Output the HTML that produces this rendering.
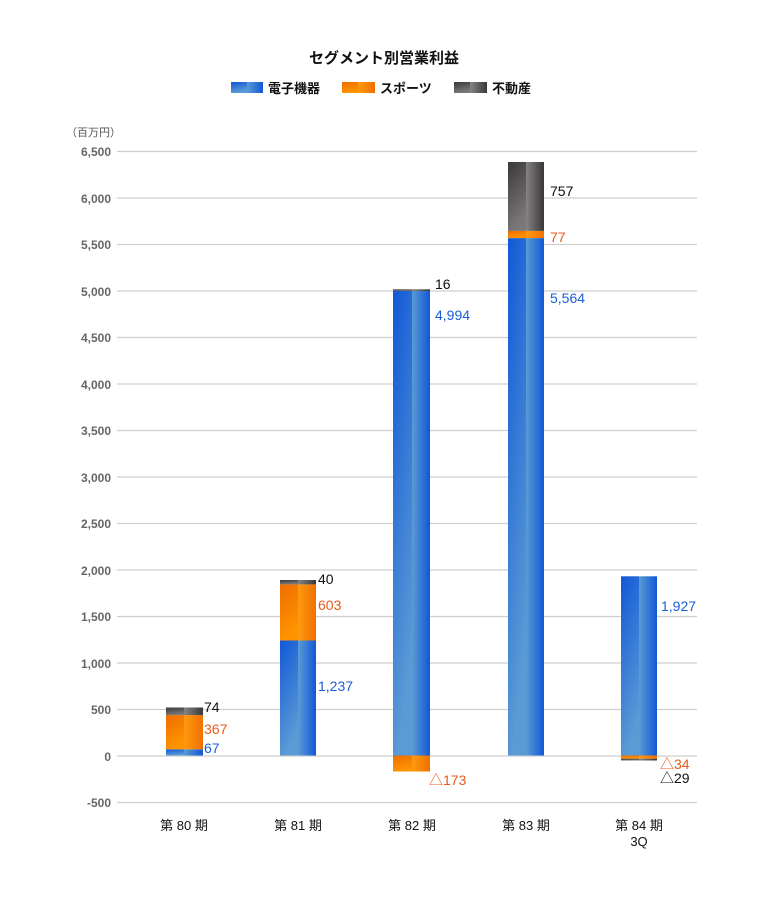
<!DOCTYPE html>
<html><head><meta charset="utf-8"><style>
html,body{margin:0;padding:0;background:#fff;}
svg{display:block;font-family:"Liberation Sans","Noto Sans CJK JP",sans-serif;}
</style></head><body>
<svg width="768" height="900" viewBox="0 0 768 900" xmlns="http://www.w3.org/2000/svg">
<defs>
<linearGradient id="bL" x1="0" y1="0" x2="0.3" y2="1"><stop offset="0" stop-color="#1158d6"/><stop offset="1" stop-color="#5b9bd5"/></linearGradient>
<linearGradient id="bR" x1="0" y1="0" x2="1" y2="0"><stop offset="0" stop-color="#5b9bd5"/><stop offset="1" stop-color="#1158d6"/></linearGradient>
<linearGradient id="oL" x1="0" y1="0" x2="0.3" y2="1"><stop offset="0" stop-color="#ee6d00"/><stop offset="1" stop-color="#ff9400"/></linearGradient>
<linearGradient id="oR" x1="0" y1="0" x2="1" y2="0"><stop offset="0" stop-color="#ff9a10"/><stop offset="1" stop-color="#f07000"/></linearGradient>
<linearGradient id="gL" x1="0" y1="0" x2="0.3" y2="1"><stop offset="0" stop-color="#3a3838"/><stop offset="1" stop-color="#7a7878"/></linearGradient>
<linearGradient id="gR" x1="0" y1="0" x2="1" y2="0"><stop offset="0" stop-color="#858383"/><stop offset="1" stop-color="#3a3838"/></linearGradient>
</defs>
<text x="384" y="63" text-anchor="middle" font-size="15" font-weight="bold" fill="#111">セグメント別営業利益</text>
<rect x="231" y="82" width="16" height="11" fill="url(#bL)"/><rect x="247" y="82" width="16" height="11" fill="url(#bR)"/>
<text x="268" y="93" font-size="13" font-weight="bold" fill="#111">電子機器</text>
<rect x="342" y="82" width="16" height="11" fill="url(#oL)"/><rect x="358" y="82" width="17" height="11" fill="url(#oR)"/>
<text x="380" y="93" font-size="13" font-weight="bold" fill="#111">スポーツ</text>
<rect x="454" y="82" width="16" height="11" fill="url(#gL)"/><rect x="470" y="82" width="17" height="11" fill="url(#gR)"/>
<text x="492" y="93" font-size="13" font-weight="bold" fill="#111">不動産</text>
<text x="66" y="136" font-size="11" fill="#555">（百万円）</text>
<g stroke="#cfcfcf" stroke-width="1.3">
<line x1="117" x2="697" y1="151.5" y2="151.5"/><line x1="117" x2="697" y1="198" y2="198"/><line x1="117" x2="697" y1="244.5" y2="244.5"/><line x1="117" x2="697" y1="291" y2="291"/><line x1="117" x2="697" y1="337.5" y2="337.5"/><line x1="117" x2="697" y1="384" y2="384"/><line x1="117" x2="697" y1="430.5" y2="430.5"/><line x1="117" x2="697" y1="477" y2="477"/><line x1="117" x2="697" y1="523.5" y2="523.5"/><line x1="117" x2="697" y1="570" y2="570"/><line x1="117" x2="697" y1="616.5" y2="616.5"/><line x1="117" x2="697" y1="663" y2="663"/><line x1="117" x2="697" y1="709.5" y2="709.5"/><line x1="117" x2="697" y1="756" y2="756"/><line x1="117" x2="697" y1="802.5" y2="802.5"/>
</g>
<g font-size="12" font-weight="bold" fill="#666" text-anchor="end">
<text x="111" y="156">6,500</text><text x="111" y="203">6,000</text><text x="111" y="249">5,500</text><text x="111" y="296">5,000</text><text x="111" y="342">4,500</text><text x="111" y="389">4,000</text><text x="111" y="435">3,500</text><text x="111" y="482">3,000</text><text x="111" y="528">2,500</text><text x="111" y="575">2,000</text><text x="111" y="621">1,500</text><text x="111" y="668">1,000</text><text x="111" y="714">500</text><text x="111" y="761">0</text><text x="111" y="807">-500</text>
</g>
<!-- bar 1 -->
<rect x="166" y="749.3" width="18" height="6.2" fill="url(#bL)"/><rect x="184" y="749.3" width="19" height="6.2" fill="url(#bR)"/>
<rect x="166" y="715.1" width="18" height="34.2" fill="url(#oL)"/><rect x="184" y="715.1" width="19" height="34.2" fill="url(#oR)"/>
<rect x="166" y="707.5" width="18" height="7.6" fill="url(#gL)"/><rect x="184" y="707.5" width="19" height="7.6" fill="url(#gR)"/>
<!-- bar 2 -->
<rect x="280" y="640.5" width="18" height="115" fill="url(#bL)"/><rect x="298" y="640.5" width="18" height="115" fill="url(#bR)"/>
<rect x="280" y="584.4" width="18" height="56.1" fill="url(#oL)"/><rect x="298" y="584.4" width="18" height="56.1" fill="url(#oR)"/>
<rect x="280" y="580" width="18" height="4.4" fill="url(#gL)"/><rect x="298" y="580" width="18" height="4.4" fill="url(#gR)"/>
<!-- bar 3 -->
<rect x="393" y="291" width="19" height="464.5" fill="url(#bL)"/><rect x="412" y="291" width="18" height="464.5" fill="url(#bR)"/>
<rect x="393" y="289.3" width="19" height="1.7" fill="url(#gL)"/><rect x="412" y="289.3" width="18" height="1.7" fill="url(#gR)"/>
<rect x="393" y="755.5" width="19" height="16" fill="url(#oL)"/><rect x="412" y="755.5" width="18" height="16" fill="url(#oR)"/>
<!-- bar 4 -->
<rect x="508" y="238.1" width="18" height="517.4" fill="url(#bL)"/><rect x="526" y="238.1" width="18" height="517.4" fill="url(#bR)"/>
<rect x="508" y="230.9" width="18" height="7.2" fill="url(#oL)"/><rect x="526" y="230.9" width="18" height="7.2" fill="url(#oR)"/>
<rect x="508" y="162" width="18" height="68.9" fill="url(#gL)"/><rect x="526" y="162" width="18" height="68.9" fill="url(#gR)"/>
<!-- bar 5 -->
<rect x="621" y="576.3" width="18" height="179.2" fill="url(#bL)"/><rect x="639" y="576.3" width="18" height="179.2" fill="url(#bR)"/>
<rect x="621" y="755.5" width="18" height="3.2" fill="url(#oL)"/><rect x="639" y="755.5" width="18" height="3.2" fill="url(#oR)"/>
<rect x="621" y="758.7" width="18" height="1.8" fill="url(#gL)"/><rect x="639" y="758.7" width="18" height="1.8" fill="url(#gR)"/>
<g font-size="14">
<text x="204" y="712" fill="#111">74</text><text x="204" y="734" fill="#e85a1a">367</text><text x="204" y="753" fill="#1a5ed8">67</text>
<text x="318" y="584" fill="#111">40</text><text x="318" y="610" fill="#e85a1a">603</text><text x="318" y="691" fill="#1a5ed8">1,237</text>
<text x="435" y="289" fill="#111">16</text><text x="435" y="320" fill="#1a5ed8">4,994</text><text x="429" y="785" fill="#e85a1a">△173</text>
<text x="550" y="196" fill="#111">757</text><text x="550" y="242" fill="#e85a1a">77</text><text x="550" y="303" fill="#1a5ed8">5,564</text>
<text x="661" y="611" fill="#1a5ed8">1,927</text><text x="660" y="769" fill="#e85a1a">△34</text><text x="660" y="783" fill="#111">△29</text>
</g>
<g font-size="13" fill="#111" text-anchor="middle">
<text x="184" y="830">第 80 期</text><text x="298" y="830">第 81 期</text><text x="412" y="830">第 82 期</text><text x="526" y="830">第 83 期</text><text x="639" y="830">第 84 期</text><text x="639" y="846">3Q</text>
</g>
</svg>
</body></html>
